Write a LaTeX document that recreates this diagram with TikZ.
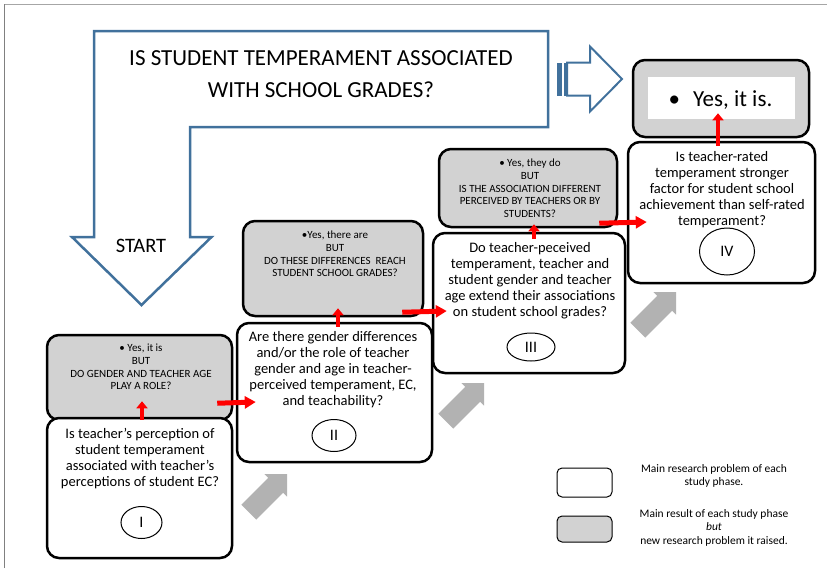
\documentclass[tikz,border=0pt]{standalone}
\usepackage{fontspec}
\setmainfont{Carlito}
\usetikzlibrary{arrows.meta,shapes.geometric}
\definecolor{frameblue}{RGB}{65,113,156}
\definecolor{resultgray}{RGB}{210,210,210}
\definecolor{stepgray}{RGB}{178,178,178}
\tikzset{
  result/.style={draw, line width=2.5pt, rounded corners=12pt, fill=resultgray, inner sep=0pt},
  problem/.style={draw, line width=2.5pt, rounded corners=12pt, fill=white, inner sep=0pt},
  phase/.style={ellipse, draw, line width=1pt, inner sep=0pt, font=\fontsize{16}{16}\selectfont},
  qtext/.style={align=center, inner sep=0pt, anchor=north, font=\fontsize{14.5}{16}\selectfont},
  atext/.style={align=center, inner sep=0pt, anchor=north, font=\fontsize{11}{12.7}\selectfont},
  ltext/.style={align=center, inner sep=0pt, anchor=north, font=\fontsize{11.5}{13.5}\selectfont},
  redup/.style={red, line width=4.5pt, -{Triangle[width=11pt,length=7pt]}},
  redright/.style={red, line width=5pt, -{Triangle[width=12pt,length=11pt]}},
  nextstep/.style={fill=stepgray},
}

\begin{document}
\begin{tikzpicture}[x=1pt,y=-1pt]
\useasboundingbox (0,0) rectangle (827,568);
% page frame
\draw[gray!70, line width=1.2pt] (4,4.3) -- (827,4.3);
\draw[gray, line width=1.5pt] (4.5,568) -- (4.5,4);

% big question and start arrow
\draw[frameblue, line width=2.5pt] (94,31) -- (548,31) -- (548,127) -- (190,127) -- (190,237) -- (211.5,237) -- (141.5,305) -- (72,237) -- (94,237) -- cycle;
\node[font=\fontsize{23}{32.3}\selectfont, align=center, inner sep=0pt] (question) at (321,74) {IS STUDENT TEMPERAMENT ASSOCIATED\\WITH SCHOOL GRADES?};
\node[font=\fontsize{20.5}{20.5}\selectfont, inner sep=0pt] (start) at (141,246) {START};
\fill[frameblue] (557,62.5) rectangle (561.5,95.5);
\fill[frameblue] (563.5,62.5) rectangle (565.5,95.5);
\draw[frameblue, line width=2pt] (567,62.5) -- (590,62.5) -- (590,46.5) -- (622,79) -- (590,111.5) -- (590,95.5) -- (567,95.5) -- cycle;

% results of each phase
\node[result, minimum width=185pt, minimum height=85pt] (g1) at (139.5,377.5) {};
\node[result, minimum width=180pt, minimum height=95pt] (g2) at (333,268.5) {};
\node[result, minimum width=178pt, minimum height=78pt] (g3) at (528,188) {};
\node[result, minimum width=176pt, minimum height=77pt] (g4) at (721,98.5) {};
\node[fill=white, inner sep=0pt, minimum width=147pt, minimum height=42pt] (g4in) at (721.5,98) {};

% research problems
\node[problem, minimum width=185pt, minimum height=140pt] (w1) at (139.5,488) {};
\node[problem, minimum width=195pt, minimum height=139pt] (w2) at (334.5,392.5) {};
\node[problem, minimum width=192pt, minimum height=140pt] (w3) at (529,303) {};
\node[problem, minimum width=187pt, minimum height=141pt] (w4) at (721.5,212.5) {};

\node[atext] (a1) at (141,344) {\textbullet\ Yes, it is\\BUT\\DO GENDER AND TEACHER AGE\\PLAY A ROLE?};
\node[atext] (a2) at (335,231) {\textbullet Yes, there are\\BUT\\DO THESE DIFFERENCES\ \ REACH\\STUDENT SCHOOL GRADES?};
\node[atext] (a3) at (530,159) {\textbullet\ Yes, they do\\BUT\\IS THE ASSOCIATION DIFFERENT\\PERCEIVED BY TEACHERS OR BY\\STUDENTS?};
\node[font=\fontsize{23}{23}\selectfont, inner sep=0pt, anchor=base] (a4) at (720.5,106.5) {\textbullet\hspace{13pt}Yes, it is.};

\node[qtext] (q1) at (140,428) {Is teacher's perception of\\student temperament\\associated with teacher's\\perceptions of student EC?};
\node[qtext] (q2) at (333,331) {Are there gender differences\\and/or the role of teacher\\gender and age in teacher-\\perceived temperament, EC,\\and teachability?};
\node[qtext] (q3) at (530,242) {Do teacher-peceived\\temperament, teacher and\\student gender and teacher\\age extend their associations\\on student school grades?};
\node[qtext] (q4) at (722,151) {Is teacher-rated\\temperament stronger\\factor for student school\\achievement than self-rated\\temperament?};

\node[phase, minimum width=41pt, minimum height=32pt] (p1) at (141.5,522.5) {I};
\node[phase, minimum width=44pt, minimum height=32pt] (p2) at (334,435.5) {II};
\node[phase, minimum width=48pt, minimum height=28pt] (p3) at (531,347) {III};
\node[phase, minimum width=55pt, minimum height=47pt] (p4) at (727,251.5) {IV};

% red arrows
\draw[redup] ([shift={(2.5pt,-3pt)}]w1.north) -- ([shift={(2.5pt,20pt)}]g1.south);
\draw[redup] ([shift={(3.5pt,-5pt)}]w2.north) -- ([shift={(5pt,9pt)}]g2.south);
\draw[redup] ([shift={(5pt,-7pt)}]w3.north) -- ([shift={(6pt,4pt)}]g3.south);
\draw[redup] ([shift={(-3.5pt,-5pt)}]w4.north) -- ([shift={(-3pt,25pt)}]g4.south);
\draw[redright] ([shift={(-16pt,18pt)}]g1.south east) -- ([shift={(20pt,-9.5pt)}]w2.west);
\draw[redright] ([shift={(-22pt,5pt)}]g2.south east) -- ([shift={(15pt,-8pt)}]w3.west);
\draw[redright] ([shift={(-19pt,5pt)}]g3.south east) -- ([shift={(20pt,-9.5pt)}]w4.west);

% gray step arrows
\fill[nextstep, shift={(287,474)}, rotate=45] (0,0) -- (-16,16) -- (-16,10.5) -- (-54,10.5) -- (-54,-10.5) -- (-16,-10.5) -- (-16,-16) -- cycle;
\fill[nextstep, shift={(484,383)}, rotate=45] (0,0) -- (-16,16) -- (-16,10.5) -- (-54,10.5) -- (-54,-10.5) -- (-16,-10.5) -- (-16,-16) -- cycle;
\fill[nextstep, shift={(676,292)}, rotate=45] (0,0) -- (-16,16) -- (-16,10.5) -- (-54,10.5) -- (-54,-10.5) -- (-16,-10.5) -- (-16,-16) -- cycle;

% legend
\node[problem, line width=1pt, rounded corners=5pt, minimum width=55pt, minimum height=29pt] (lp) at (584.5,482.5) {};
\node[result, line width=1pt, rounded corners=5pt, minimum width=55pt, minimum height=26pt] (lr) at (584.5,529) {};
\node[ltext] (lt1) at (714,464) {Main research problem of each\\study phase.};
\node[ltext] (lt2) at (714,509) {Main result of each study phase\\\textit{but}\\new research problem it raised.};
\end{tikzpicture}
\end{document}
